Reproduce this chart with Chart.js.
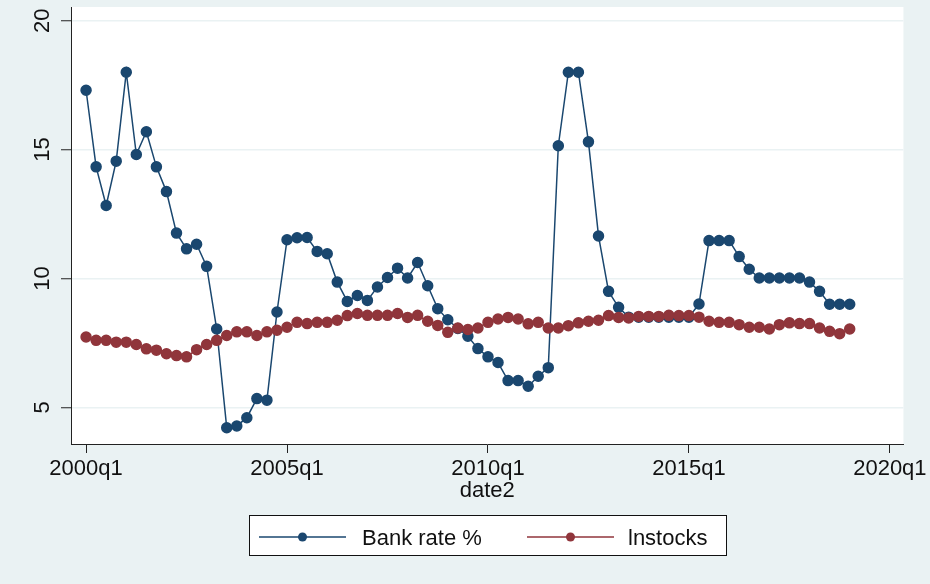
<!DOCTYPE html>
<html>
<head>
<meta charset="utf-8">
<script src="https://cdn.jsdelivr.net/npm/chart.js@4"></script>
<style>
    html, body { margin: 0; padding: 0; background: #EAF2F3; }
    #wrap { width: 930px; height: 584px; position: relative; }
</style>
</head>
<body>
<div id="wrap"><canvas id="rateChart"></canvas></div>
<script>
// quarterly series, 2000q1 .. 2019q1
const bankRate = [
    17.3, 14.33, 12.83, 14.55, 18.0, 14.81, 15.69, 14.33, 13.37, 11.76,
    11.15, 11.33, 10.47, 8.04, 4.21, 4.28, 4.6, 5.34, 5.28, 8.7,
    11.5, 11.58, 11.59, 11.05, 10.96, 9.86, 9.11, 9.34, 9.15, 9.67,
    10.04, 10.4, 10.02, 10.62, 9.72, 8.83, 8.4, 8.06, 7.76, 7.28,
    6.96, 6.74, 6.04, 6.04, 5.82, 6.21, 6.54, 15.15, 18.0, 18.0,
    15.3, 11.65, 9.5, 8.88, 8.5, 8.5, 8.5, 8.5, 8.5, 8.5,
    8.5, 9.01, 11.47, 11.47, 11.47, 10.85, 10.36, 10.02, 10.02, 10.02,
    10.02, 10.02, 9.86, 9.5, 9.0, 9.0, 9.0
];
const lnstocks = [
    7.73, 7.6, 7.6, 7.53, 7.53, 7.44, 7.27, 7.22, 7.08, 7.01,
    6.96, 7.24, 7.44, 7.6, 7.79, 7.93, 7.93, 7.79, 7.93, 7.99,
    8.11, 8.3, 8.25, 8.3, 8.3, 8.38, 8.56, 8.64, 8.57, 8.57,
    8.57, 8.64, 8.49, 8.57, 8.34, 8.18, 7.91, 8.08, 8.02, 8.08,
    8.3, 8.43, 8.49, 8.43, 8.24, 8.3, 8.08, 8.08, 8.17, 8.28,
    8.34, 8.38, 8.56, 8.49, 8.47, 8.53, 8.53, 8.53, 8.57, 8.56,
    8.56, 8.5, 8.34, 8.3, 8.3, 8.21, 8.11, 8.11, 8.04, 8.21,
    8.28, 8.25, 8.25, 8.08, 7.95, 7.86, 8.04
];
const seriesNames = ['Bank rate %', 'lnstocks'];
const seriesColors = ['#1A476F', '#90353B'];

const xTickValues = [0, 20, 40, 60, 80];
const xTickLabels = ['2000q1', '2005q1', '2010q1', '2015q1', '2020q1'];
const yTickValues = [5, 10, 15, 20];
const xTitle = 'date2';

const FONT = "'Liberation Sans', Arial, sans-serif";

// quarter index 0 = 2000q1
const quarters = bankRate.map((v, i) => (2000 + Math.floor(i / 4)) + 'q' + (i % 4 + 1));

function toPoints(arr) {
    return arr.map((v, i) => ({ x: i, y: v }));
}

const stataExtras = {
    id: 'stataExtras',
    beforeDraw(chart) {
        const { ctx, chartArea: a } = chart;
        ctx.save();
        ctx.fillStyle = '#ffffff';
        ctx.fillRect(a.left, a.top, a.right - a.left, a.bottom - a.top);
        ctx.restore();
    },
    afterDraw(chart) {
        const { ctx, chartArea: a } = chart;
        const yScale = chart.scales.y;
        ctx.save();
        ctx.fillStyle = '#111';
        ctx.font = '22px ' + FONT;

        // rotated y tick labels
        yTickValues.forEach(v => {
            const py = yScale.getPixelForValue(v);
            ctx.save();
            ctx.translate(49, py);
            ctx.rotate(-Math.PI / 2);
            ctx.textAlign = 'center';
            ctx.textBaseline = 'alphabetic';
            ctx.fillText(String(v), 0, 0);
            ctx.restore();
        });

        // x axis title
        ctx.textAlign = 'center';
        ctx.textBaseline = 'alphabetic';
        ctx.fillText(xTitle, (a.left + a.right) / 2, 497);

        // legend box
        ctx.fillStyle = '#ffffff';
        ctx.fillRect(249, 515, 478, 41);
        ctx.strokeStyle = '#111';
        ctx.lineWidth = 1;
        ctx.strokeRect(249.5, 515.5, 477, 40);

        const items = [
            { x0: 259, x1: 346, text: 362 },
            { x0: 527, x1: 614, text: 628 }
        ];
        items.forEach((it, k) => {
            const ly = 537;
            ctx.strokeStyle = seriesColors[k];
            ctx.lineWidth = 1.5;
            ctx.beginPath();
            ctx.moveTo(it.x0, ly);
            ctx.lineTo(it.x1, ly);
            ctx.stroke();
            ctx.fillStyle = seriesColors[k];
            ctx.beginPath();
            ctx.arc((it.x0 + it.x1) / 2, ly, 4.5, 0, Math.PI * 2);
            ctx.fill();
            ctx.fillStyle = '#111';
            ctx.textAlign = 'left';
            ctx.fillText(seriesNames[k], it.text, 545);
        });
        ctx.restore();
    }
};

const ctx = document.getElementById('rateChart').getContext('2d');
const rateChart = new Chart(ctx, {
    type: 'line',
    data: {
        labels: quarters,
        datasets: [{
            label: seriesNames[0],
            data: toPoints(bankRate),
            borderColor: seriesColors[0],
            backgroundColor: seriesColors[0],
            pointBackgroundColor: seriesColors[0],
            pointBorderColor: seriesColors[0],
            borderWidth: 1.5,
            pointRadius: 5,
            pointBorderWidth: 1.5,
            tension: 0,
            order: 1
        }, {
            label: seriesNames[1],
            data: toPoints(lnstocks),
            borderColor: seriesColors[1],
            backgroundColor: seriesColors[1],
            pointBackgroundColor: seriesColors[1],
            pointBorderColor: seriesColors[1],
            borderWidth: 1.5,
            pointRadius: 5,
            pointBorderWidth: 1.5,
            tension: 0,
            order: 0
        }]
    },
    options: {
        responsive: true,
        maintainAspectRatio: false,
        animation: false,
        layout: { padding: { top: 7, right: 25, left: 0, bottom: 0 } },
        plugins: {
            legend: { display: false },
            tooltip: { enabled: false }
        },
        scales: {
            x: {
                type: 'linear',
                position: 'bottom',
                min: -1.5,
                max: 81.35,
                afterBuildTicks: scale => { scale.ticks = xTickValues.map(v => ({ value: v })); },
                afterFit: scale => { scale.height = 140; },
                grid: {
                    color: 'rgba(0,0,0,0)',
                    drawOnChartArea: false,
                    drawTicks: true,
                    tickLength: 9,
                    tickColor: '#222',
                    tickWidth: 1
                },
                border: { display: true, color: '#222', width: 1 },
                ticks: {
                    color: '#111',
                    font: { family: FONT, size: 22 },
                    padding: 3,
                    maxRotation: 0,
                    minRotation: 0,
                    callback: v => xTickLabels[xTickValues.indexOf(v)]
                }
            },
            y: {
                min: 3.58,
                max: 20.53,
                afterBuildTicks: scale => { scale.ticks = yTickValues.map(v => ({ value: v })); },
                afterFit: scale => { scale.width = 71; },
                grid: {
                    color: '#EAF2F3',
                    lineWidth: 1.5,
                    drawTicks: true,
                    tickLength: 10,
                    tickColor: '#222',
                    tickWidth: 1
                },
                border: { display: true, color: '#222', width: 1 },
                ticks: { display: false }
            }
        }
    },
    plugins: [stataExtras]
});
</script>
</body>
</html>
